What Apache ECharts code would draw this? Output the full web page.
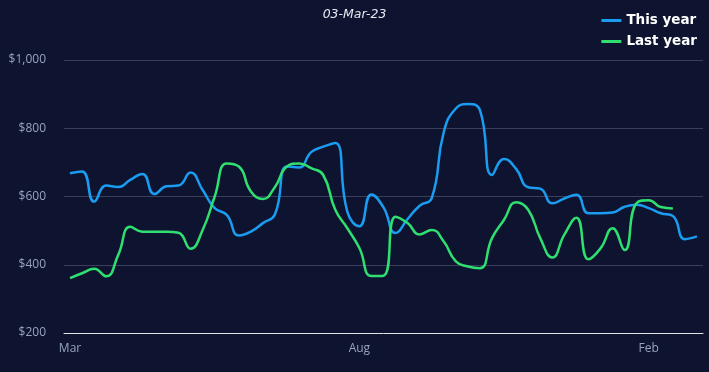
<!DOCTYPE html>
<html>
<head>
<meta charset="utf-8">
<script src="https://cdn.jsdelivr.net/npm/echarts@6/dist/echarts.min.js"></script>
<style>
html,body{margin:0;padding:0;background:#0e1330;}
#chart{width:709px;height:372px;}
</style>
</head>
<body>
<div id="chart"></div>
<script>
const titleText = '03-Mar-23';
const categories = [
 '03-Mar-23','10-Mar-23','17-Mar-23','24-Mar-23','31-Mar-23',
 '07-Apr-23','14-Apr-23','21-Apr-23','28-Apr-23',
 '05-May-23','12-May-23','19-May-23','26-May-23',
 '02-Jun-23','09-Jun-23','16-Jun-23','23-Jun-23','30-Jun-23',
 '07-Jul-23','14-Jul-23','21-Jul-23','28-Jul-23',
 '04-Aug-23','11-Aug-23','18-Aug-23','25-Aug-23',
 '01-Sep-23','08-Sep-23','15-Sep-23','22-Sep-23','29-Sep-23',
 '06-Oct-23','13-Oct-23','20-Oct-23','27-Oct-23',
 '03-Nov-23','10-Nov-23','17-Nov-23','24-Nov-23',
 '01-Dec-23','08-Dec-23','15-Dec-23','22-Dec-23','29-Dec-23',
 '05-Jan-24','12-Jan-24','19-Jan-24','26-Jan-24',
 '02-Feb-24','09-Feb-24','16-Feb-24','23-Feb-24',
 '01-Mar-24'
];
const thisYear = [
 668,673,585,632,628,649,666,607,630,632,
 670,619,566,546,486,497,522,548,688,685,
 730,746,757,555,513,606,568,493,534,573,
 595,789,858,871,853,663,710,681,627,623,
 580,594,605,551,551,553,570,576,566,551,
 543,475,483
];
const lastYear = [
 361,375,388,366,429,511,497,497,497,494,
 447,502,600,697,688,615,593,628,688,697,
 683,663,561,507,449,367,368,541,522,489,
 502,468,410,395,390,478,532,583,561,478,
 421,488,538,416,448,507,443,581,589,569,
 565
];
const seriesNames = ['This year','Last year'];
const yTicks = {min:200, max:1000, interval:200};

const chart = echarts.init(document.getElementById('chart'), null, {renderer:'canvas'});
chart.setOption({
  backgroundColor:'#0e1330',
  animation:false,
  title:{
    text:titleText, left:'center', top:3,
    textStyle:{color:'#e6e8f0', fontSize:12.5, fontStyle:'italic', fontWeight:'normal', fontFamily:'DejaVu Sans'}
  },
  legend:{
    orient:'vertical', right:7, top:7, itemGap:4,
    itemWidth:20, itemHeight:3, icon:'rect',
    textStyle:{color:'#ffffff', fontSize:13.5, fontWeight:'bold', fontFamily:'DejaVu Sans', lineHeight:17},
    data:seriesNames
  },
  grid:{left:64, right:6, top:60, bottom:39, containLabel:false},
  xAxis:{
    type:'category', data:categories, boundaryGap:true,
    axisLine:{lineStyle:{color:'#dfe3ec', width:1}},
    axisTick:{show:false},
    axisLabel:{interval:23, color:'#97a3bd', fontSize:12, fontFamily:'Open Sans', margin:10,
      formatter:function(v){return v.split('-')[1];}}
  },
  yAxis:{
    type:'value', min:yTicks.min, max:yTicks.max, interval:yTicks.interval,
    axisLine:{show:false}, axisTick:{show:false},
    splitLine:{lineStyle:{color:'#3b3f5c', width:1}},
    axisLabel:{color:'#97a3bd', fontSize:12, fontFamily:'Open Sans', margin:18,
      formatter:function(v){return '$'+v.toLocaleString('en-US');}}
  },
  series:[
    {name:seriesNames[0], type:'line', data:thisYear, smooth:true, symbol:'none',
     lineStyle:{color:'#1a9cf0', width:2.5}, itemStyle:{color:'#1a9cf0'}},
    {name:seriesNames[1], type:'line', data:lastYear, smooth:true, symbol:'none',
     lineStyle:{color:'#2fe070', width:2.5}, itemStyle:{color:'#2fe070'}}
  ]
});
</script>
</body>
</html>
